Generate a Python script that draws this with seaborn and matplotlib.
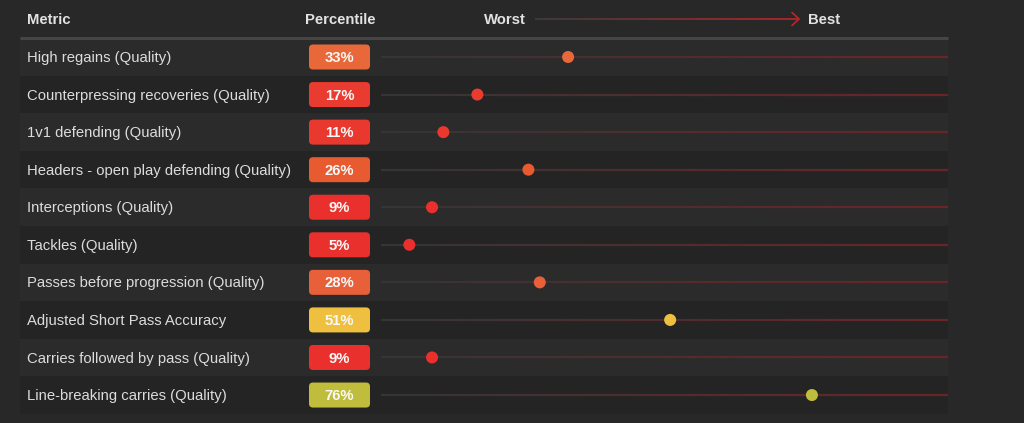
import numpy as np
import pandas as pd
import matplotlib
matplotlib.use("Agg")
import matplotlib.pyplot as plt
import seaborn as sns
from matplotlib.patches import FancyBboxPatch
from matplotlib.collections import LineCollection
from matplotlib.colors import to_rgb

metrics = [
    "High regains (Quality)",
    "Counterpressing recoveries (Quality)",
    "1v1 defending (Quality)",
    "Headers - open play defending (Quality)",
    "Interceptions (Quality)",
    "Tackles (Quality)",
    "Passes before progression (Quality)",
    "Adjusted Short Pass Accuracy",
    "Carries followed by pass (Quality)",
    "Line-breaking carries (Quality)",
]
percentiles = [33, 17, 11, 26, 9, 5, 28, 51, 9, 76]
colors = ["#e8683a", "#e93b2f", "#e9382e", "#e85a30", "#ea302c",
          "#ea302c", "#e8603a", "#efc03f", "#ea302c", "#c0bd3c"]
headers = ["Metric", "Percentile", "Worst", "Best"]

BG = "#282828"
sns.set_theme(style="dark")
plt.rcParams["font.family"] = ["Liberation Sans", "DejaVu Sans"]

W, H = 1024, 423
fig = plt.figure(figsize=(W / 100, H / 100), dpi=100, facecolor=BG)
ax = fig.add_axes([0, 0, 1, 1])
ax.set_facecolor(BG)

x0px, x1px = 381.0, 948.0
ppu = (x1px - x0px) / 100.0
r0py, rstep = 57.0, 37.56

def set_limits():
    ax.set_xlim(-x0px / ppu, (W - x0px) / ppu)
    ax.set_ylim((H - r0py) / rstep, -r0py / rstep)
    ax.set_axis_off()

set_limits()

def px2x(px):
    return (px - x0px) / ppu

def py2y(py):
    return (py - r0py) / rstep

n = len(metrics)
df = pd.DataFrame({"metric": metrics, "pct": percentiles, "row": np.arange(n)})

# row backgrounds
for i in range(n):
    c = "#2b2b2b" if i % 2 == 0 else "#242424"
    ax.axhspan(i - 0.5, i + 0.5, xmin=20 / W, xmax=948 / W, color=c, lw=0, zorder=0)

# header separator
ax.plot([px2x(20), px2x(948)], [-0.5, -0.5], color="#454545", lw=2.2, zorder=1,
        solid_capstyle="butt")

# gradient track lines
c_start = np.array(to_rgb("#353535"))
c_end = np.array(to_rgb("#6a2428"))
xs = np.linspace(0, 100, 120)
for i in range(n):
    segs = [[(xs[k], i), (xs[k + 1], i)] for k in range(len(xs) - 1)]
    t = np.linspace(0, 1, len(segs))[:, None]
    cols = c_start * (1 - t) + c_end * t
    lc = LineCollection(segs, colors=cols, linewidths=1.6, zorder=2, capstyle="butt")
    ax.add_collection(lc)

# dots
sns.scatterplot(data=df, x="pct", y="row", hue="metric", palette=colors,
                legend=False, s=75, edgecolor="none", linewidth=0, ax=ax, zorder=5)
set_limits()

FS = 10.7
bx_c = px2x(339.5)
bw = 61 / ppu
bh = 25 / rstep
for i, (m, p, c) in enumerate(zip(metrics, percentiles, colors)):
    ax.text(px2x(27), i + 0.03, m, color="#dcdcdc", fontsize=FS, va="center", ha="left", zorder=6)
    patch = FancyBboxPatch((bx_c - bw / 2, i - bh / 2), bw, bh,
                           boxstyle="round,pad=0,rounding_size=%f" % (4 / ppu),
                           mutation_aspect=ppu / rstep, fc=c, ec="none", zorder=6)
    ax.add_patch(patch)
    ax.text(bx_c, i + 0.03, f"{p}%", color="#f8f8f8", fontsize=FS, fontweight="bold",
            va="center", ha="center", zorder=7)

# header
hy = py2y(19)
hc = "#e2e2e2"
ax.text(px2x(27), hy + 0.03, headers[0], color=hc, fontsize=FS, fontweight="bold", va="center", ha="left")
ax.text(px2x(340), hy + 0.03, headers[1], color=hc, fontsize=FS, fontweight="bold", va="center", ha="center")
ax.text(px2x(526), hy + 0.03, headers[2], color=hc, fontsize=FS, fontweight="bold", va="center", ha="right")
ax.text(px2x(808), hy + 0.03, headers[3], color=hc, fontsize=FS, fontweight="bold", va="center", ha="left")

# header arrow gradient
ax_s, ax_e = px2x(535), px2x(799)
axs = np.linspace(ax_s, ax_e, 100)
segs = [[(axs[k], hy), (axs[k + 1], hy)] for k in range(len(axs) - 1)]
t = np.linspace(0, 1, len(segs))[:, None]
a0 = np.array(to_rgb("#3e3e3e"))
a1 = np.array(to_rgb("#c0242b"))
ax.add_collection(LineCollection(segs, colors=a0 * (1 - t) + a1 * t, linewidths=1.2, zorder=3))
ax.plot([px2x(792), px2x(799), px2x(792)], [py2y(12.5), hy, py2y(25.5)],
        color="#c0242b", lw=1.2, zorder=3, solid_joinstyle="miter")

fig.savefig("out.png", dpi=100, facecolor=BG)
